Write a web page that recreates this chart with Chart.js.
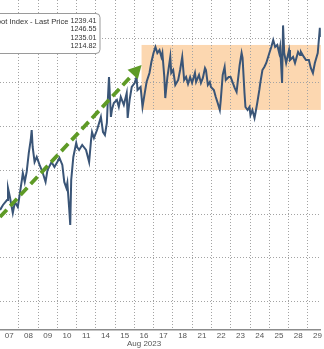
<!DOCTYPE html>
<html>
<head>
<meta charset="utf-8">
<script src="https://cdn.jsdelivr.net/npm/chart.js@4.4.0/dist/chart.umd.min.js"></script>
<style>
    html, body { margin: 0; padding: 0; background: #fff; }
    canvas { display: block; }
</style>
</head>
<body>
<canvas id="dollar-chart" width="324" height="349"></canvas>
<script>
// Trading days on the axis (Aug 2023)
const dayLabels = ['07', '08', '09', '10', '11', '14', '15', '16', '17', '18', '21', '22', '23', '24', '25', '28', '29'];
const monthLabel = 'Aug 2023';

// Time in trading days since the open of Aug 07, and the index level
const times = [
    0.03, 0.18, 0.39, 0.44, 0.54, 0.69, 0.80, 0.95, 1.16, 1.21,
    1.31, 1.41, 1.52, 1.62, 1.67, 1.72, 1.82, 1.93, 2.08, 2.23,
    2.39, 2.49, 2.70, 2.85, 3.00, 3.11, 3.26, 3.36, 3.47, 3.52,
    3.62, 3.67, 3.72, 3.83, 3.98, 4.03, 4.13, 4.29, 4.49, 4.65,
    4.75, 4.80, 4.90, 5.06, 5.26, 5.37, 5.47, 5.57, 5.62, 5.68,
    5.78, 5.83, 5.93, 6.09, 6.19, 6.29, 6.45, 6.60, 6.65, 6.75,
    6.86, 7.01, 7.11, 7.16, 7.32, 7.42, 7.52, 7.63, 7.78, 7.88,
    7.99, 8.09, 8.19, 8.30, 8.40, 8.45, 8.55, 8.60, 8.71, 8.86,
    8.91, 9.01, 9.12, 9.27, 9.37, 9.48, 9.58, 9.68, 9.78, 9.89,
    9.99, 10.14, 10.20, 10.35, 10.45, 10.55, 10.66, 10.71, 10.81, 10.91,
    10.97, 11.12, 11.22, 11.32, 11.43, 11.48, 11.58, 11.68, 11.74, 11.89,
    11.99, 12.20, 12.30, 12.46, 12.56, 12.61, 12.71, 12.76, 12.87, 12.97,
    13.02, 13.12, 13.23, 13.28, 13.38, 13.48, 13.53, 13.64, 13.74, 13.84,
    14.00, 14.10, 14.20, 14.30, 14.41, 14.51, 14.56, 14.66, 14.71, 14.77,
    14.87, 15.02, 15.07, 15.23, 15.33, 15.49, 15.59, 15.64, 15.79, 15.90,
    16.05, 16.15, 16.26, 16.36, 16.51, 16.62, 16.67
];
const prices = [
    1225.48, 1226.05, 1226.62, 1227.99, 1226.96, 1225.14, 1226.39, 1225.82, 1228.90, 1229.70,
    1228.68, 1229.82, 1231.99, 1233.47, 1234.61, 1232.67, 1230.96, 1231.53, 1230.62, 1229.82,
    1228.68, 1230.05, 1230.96, 1230.39, 1230.96, 1231.42, 1230.62, 1228.68, 1227.99, 1228.56,
    1225.48, 1223.77, 1228.90, 1231.53, 1233.13, 1232.67, 1232.33, 1232.90, 1232.33, 1230.96,
    1233.47, 1234.38, 1233.70, 1234.61, 1236.10, 1234.38, 1234.04, 1235.41, 1238.04, 1240.66,
    1236.10, 1236.89, 1237.69, 1238.04, 1237.24, 1238.38, 1237.47, 1238.84, 1235.98, 1238.04,
    1239.52, 1239.98, 1240.66, 1239.18, 1239.52, 1237.24, 1238.61, 1240.09, 1241.12, 1242.37,
    1243.40, 1244.09, 1243.40, 1243.74, 1242.95, 1243.40, 1240.66, 1238.26, 1240.66, 1242.95,
    1241.12, 1241.46, 1239.75, 1240.32, 1241.46, 1242.95, 1240.32, 1240.66, 1239.86, 1240.66,
    1239.98, 1241.12, 1240.09, 1240.89, 1239.98, 1240.55, 1241.69, 1241.46, 1239.75, 1240.09,
    1239.52, 1239.18, 1238.38, 1237.69, 1236.89, 1238.04, 1240.89, 1241.80, 1240.32, 1240.66,
    1240.66, 1239.41, 1238.95, 1242.03, 1243.40, 1242.83, 1238.84, 1237.24, 1236.89, 1237.24,
    1236.32, 1236.89, 1235.98, 1236.55, 1237.81, 1239.18, 1239.98, 1241.46, 1241.80, 1242.26,
    1243.40, 1244.09, 1244.89, 1244.09, 1244.32, 1243.40, 1244.09, 1239.98, 1246.55, 1243.40,
    1242.26, 1243.74, 1242.60, 1242.95, 1242.26, 1243.52, 1243.17, 1243.52, 1242.95, 1242.60,
    1242.60, 1241.69, 1241.12, 1242.26, 1243.40, 1246.26, 1245.23
];

// Horizontal grid levels
const yTicks = [1215, 1220, 1225, 1230, 1235, 1240, 1245];

// Legend: series name and last / high / average / low
const legendName = 'Bloomberg Dollar Spot Index - Last Price';
const legendValues = ['1239.41', '1246.55', '1235.01', '1214.82'];

// Visible window
const xMin = 0.026, xMax = 16.67;
const yMin = 1211.78, yMax = 1249.45;

// Annotations in data space
const rangeBox = { from: 7.37, low: 1236.9, high: 1244.32 };
const trendArrow = { x0: 0.026, y0: 1224.68, x1: 7.37, y1: 1242.03 };

const gridColor = '#a3a3a3';
const tickFont = { family: '"Liberation Sans", Arial, sans-serif', size: 8, lineHeight: 1.0 };

const overlays = {
    id: 'overlays',
    beforeDraw(chart) {
        const { ctx, chartArea: a, scales: { x, y } } = chart;
        ctx.save();
        ctx.fillStyle = '#ffffff';
        ctx.fillRect(0, 0, chart.width, chart.height);
        // Orange trading range
        const bx = x.getPixelForValue(rangeBox.from);
        const by0 = y.getPixelForValue(rangeBox.high);
        const by1 = y.getPixelForValue(rangeBox.low);
        ctx.fillStyle = '#fcd7b0';
        ctx.fillRect(bx, by0, a.right - bx, by1 - by0);
        ctx.restore();
    },
    afterDatasetsDraw(chart) {
        const { ctx, scales: { x, y } } = chart;
        const px0 = x.getPixelForValue(trendArrow.x0), py0 = y.getPixelForValue(trendArrow.y0);
        const px1 = x.getPixelForValue(trendArrow.x1), py1 = y.getPixelForValue(trendArrow.y1);
        const ang = Math.atan2(py1 - py0, px1 - px0);
        const headLen = 13, headHalf = 7;
        const bxp = px1 - headLen * Math.cos(ang), byp = py1 - headLen * Math.sin(ang);
        ctx.save();
        ctx.strokeStyle = '#5e9a26';
        ctx.fillStyle = '#5e9a26';
        ctx.lineWidth = 3.8;
        ctx.setLineDash([10, 5]);
        ctx.beginPath();
        ctx.moveTo(px0, py0);
        ctx.lineTo(bxp, byp);
        ctx.stroke();
        ctx.setLineDash([]);
        ctx.beginPath();
        ctx.moveTo(px1, py1);
        ctx.lineTo(bxp + headHalf * Math.sin(ang), byp - headHalf * Math.cos(ang));
        ctx.lineTo(bxp - headHalf * Math.sin(ang), byp + headHalf * Math.cos(ang));
        ctx.closePath();
        ctx.fill();
        ctx.restore();
    },
    afterDraw(chart) {
        const { ctx } = chart;
        ctx.save();
        // Legend box (cut by the left edge)
        ctx.beginPath();
        ctx.roundRect(-8, 13.5, 108, 40, 4);
        ctx.fillStyle = '#ffffff';
        ctx.fill();
        ctx.strokeStyle = '#9a9a9a';
        ctx.lineWidth = 1;
        ctx.stroke();
        ctx.font = '7.6px "Liberation Sans", Arial, sans-serif';
        ctx.fillStyle = '#333333';
        ctx.textBaseline = 'middle';
        ctx.textAlign = 'right';
        ctx.fillText(legendName, 68.5, 21.5);
        const rows = [21.5, 29.5, 37.8, 46.2];
        ctx.font = '7.2px "Liberation Sans", Arial, sans-serif';
        legendValues.forEach((v, i) => ctx.fillText(v, 96.5, rows[i]));
        ctx.restore();
    }
};

new Chart(document.getElementById('dollar-chart'), {
    type: 'line',
    data: {
        datasets: [{
            data: times.map((t, i) => ({ x: t, y: prices[i] })),
            borderColor: '#3a5577',
            borderWidth: 2,
            pointRadius: 0,
            tension: 0
        }]
    },
    options: {
        responsive: false,
        devicePixelRatio: 1,
        animation: false,
        layout: { padding: 0 },
        plugins: { legend: { display: false }, tooltip: { enabled: false } },
        scales: {
            x: {
                type: 'linear',
                position: 'bottom',
                min: xMin,
                max: xMax,
                afterBuildTicks: s => { s.ticks = dayLabels.map((_, i) => ({ value: i + 0.5 })); },
                afterFit: s => { s.height = 19; },
                ticks: {
                    autoSkip: false,
                    maxRotation: 0,
                    padding: 2,
                    color: '#555555',
                    font: tickFont,
                    callback: (v, i) => i === 7 ? [dayLabels[i], monthLabel] : dayLabels[i]
                },
                grid: { display: false, drawTicks: false },
                border: { display: true, color: '#8c8c8c', width: 1.5 }
            },
            xg: {
                type: 'linear',
                position: 'bottom',
                min: xMin,
                max: xMax,
                afterBuildTicks: s => { s.ticks = dayLabels.slice(1).map((_, i) => ({ value: i + 1 })); },
                afterFit: s => { s.height = 0; },
                ticks: { display: false },
                grid: { color: gridColor, lineWidth: 1, drawTicks: false },
                border: { display: false, dash: [1, 2] }
            },
            y: {
                type: 'linear',
                position: 'right',
                min: yMin,
                max: yMax,
                afterBuildTicks: s => { s.ticks = yTicks.map(v => ({ value: v })); },
                afterFit: s => { s.width = 0; },
                ticks: { display: false },
                grid: { color: gridColor, lineWidth: 1, drawTicks: false },
                border: { display: false, dash: [1, 2] }
            }
        }
    },
    plugins: [overlays]
});
</script>
</body>
</html>
